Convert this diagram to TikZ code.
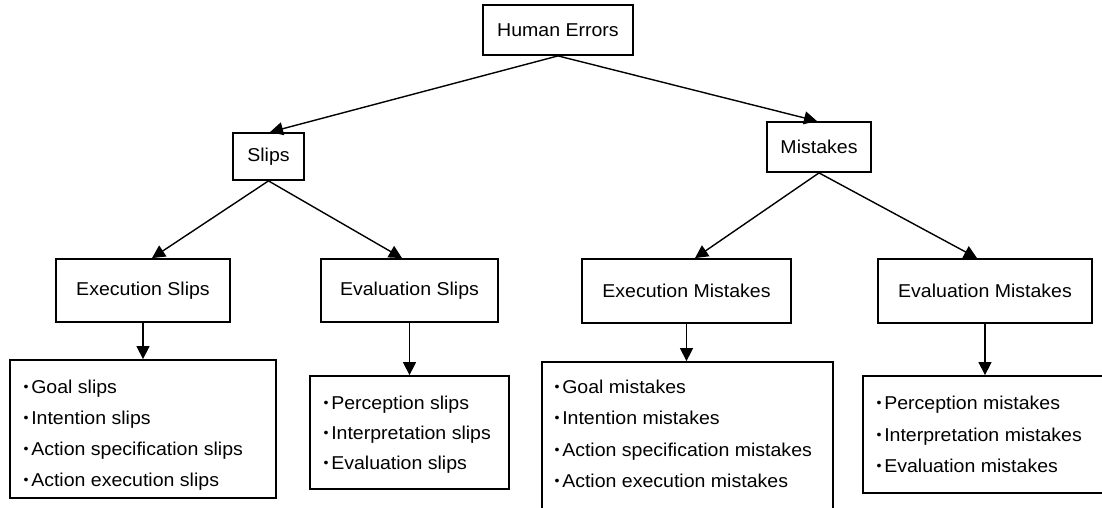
\documentclass[tikz,border=0pt]{standalone}
\usepackage{fontspec}
\setmainfont[FakeStretch=1.05]{Liberation Sans}
\usetikzlibrary{arrows.meta}

% small list bullet
\newcommand\bul{\raisebox{0.08em}{\fontsize{13.5}{13.5}\selectfont\char"2022}\hspace{0.14em}}

\begin{document}
\begin{tikzpicture}[x=1pt,y=-1pt,
  font=\fontsize{18.6}{22}\selectfont,
  box/.style={draw, line width=1.8pt, inner sep=0pt, fill=white},
  item/.style={anchor=base west, inner sep=0pt},
  arr/.style={line width=1.4pt, -{Triangle[width=13pt,length=13pt]}}]

\clip (0,0) rectangle (1102,508);
\fill[white] (0,0) rectangle (1102,508);

% category boxes
\node[box, minimum width=150pt, minimum height=50pt] (he)  at (558,30)    {Human Errors};
\node[box, minimum width=71pt,  minimum height=47pt] (sl)  at (268.5,156.5) {Slips};
\node[box, minimum width=104pt, minimum height=50pt] (mi)  at (819,147)   {Mistakes};
\node[box, minimum width=174pt, minimum height=63pt] (exs) at (143,290.5) {Execution Slips};
\node[box, minimum width=177pt, minimum height=63pt] (evs) at (409.5,290.5) {Evaluation Slips};
\node[box, minimum width=209pt, minimum height=64pt] (exm) at (686.5,291) {Execution Mistakes};
\node[box, minimum width=214pt, minimum height=64pt] (evm) at (985,291)   {Evaluation Mistakes};

% list boxes
\node[box, minimum width=266pt, minimum height=138pt] (exsl) at (143,429)   {};
\node[box, minimum width=199pt, minimum height=113pt] (evsl) at (409.5,432.5) {};
\node[box, minimum width=291pt, minimum height=168pt] (exml) at (687.5,446) {};
\node[box, minimum width=257pt, minimum height=117pt] (evml) at (991.5,434.5) {};

% list entries
\node[item] (exs1) at (23.5,393) {\bul Goal slips};
\node[item] (exs2) at (23.5,424) {\bul Intention slips};
\node[item] (exs3) at (23.5,455) {\bul Action specification slips};
\node[item] (exs4) at (23.5,486) {\bul Action execution slips};

\node[item] (evs1) at (323.5,409) {\bul Perception slips};
\node[item] (evs2) at (323.5,439) {\bul Interpretation slips};
\node[item] (evs3) at (323.5,469) {\bul Evaluation slips};

\node[item] (exm1) at (554.5,393) {\bul Goal mistakes};
\node[item] (exm2) at (554.5,424) {\bul Intention mistakes};
\node[item] (exm3) at (554.5,456) {\bul Action specification mistakes};
\node[item] (exm4) at (554.5,487) {\bul Action execution mistakes};

\node[item] (evm1) at (876.5,409) {\bul Perception mistakes};
\node[item] (evm2) at (876.5,441) {\bul Interpretation mistakes};
\node[item] (evm3) at (876.5,472) {\bul Evaluation mistakes};

% connectors
\draw[arr] (he.south) -- ([xshift=1.5pt]sl.north);
\draw[arr] (he.south) -- ([xshift=-2pt]mi.north);
\draw[arr] (sl.south) -- ([xshift=9pt]exs.north);
\draw[arr] (sl.south) -- ([xshift=-7.5pt]evs.north);
\draw[arr] (mi.south) -- ([xshift=8.5pt]exm.north);
\draw[arr] (mi.south) -- ([xshift=-8pt]evm.north);
\draw[arr] (exs.south) -- (exsl.north);
\draw[arr] (evs.south) -- (evsl.north);
\draw[arr] (exm.south) -- (exm.south |- exml.north);
\draw[arr] (evm.south) -- (evm.south |- evml.north);
\end{tikzpicture}
\end{document}
